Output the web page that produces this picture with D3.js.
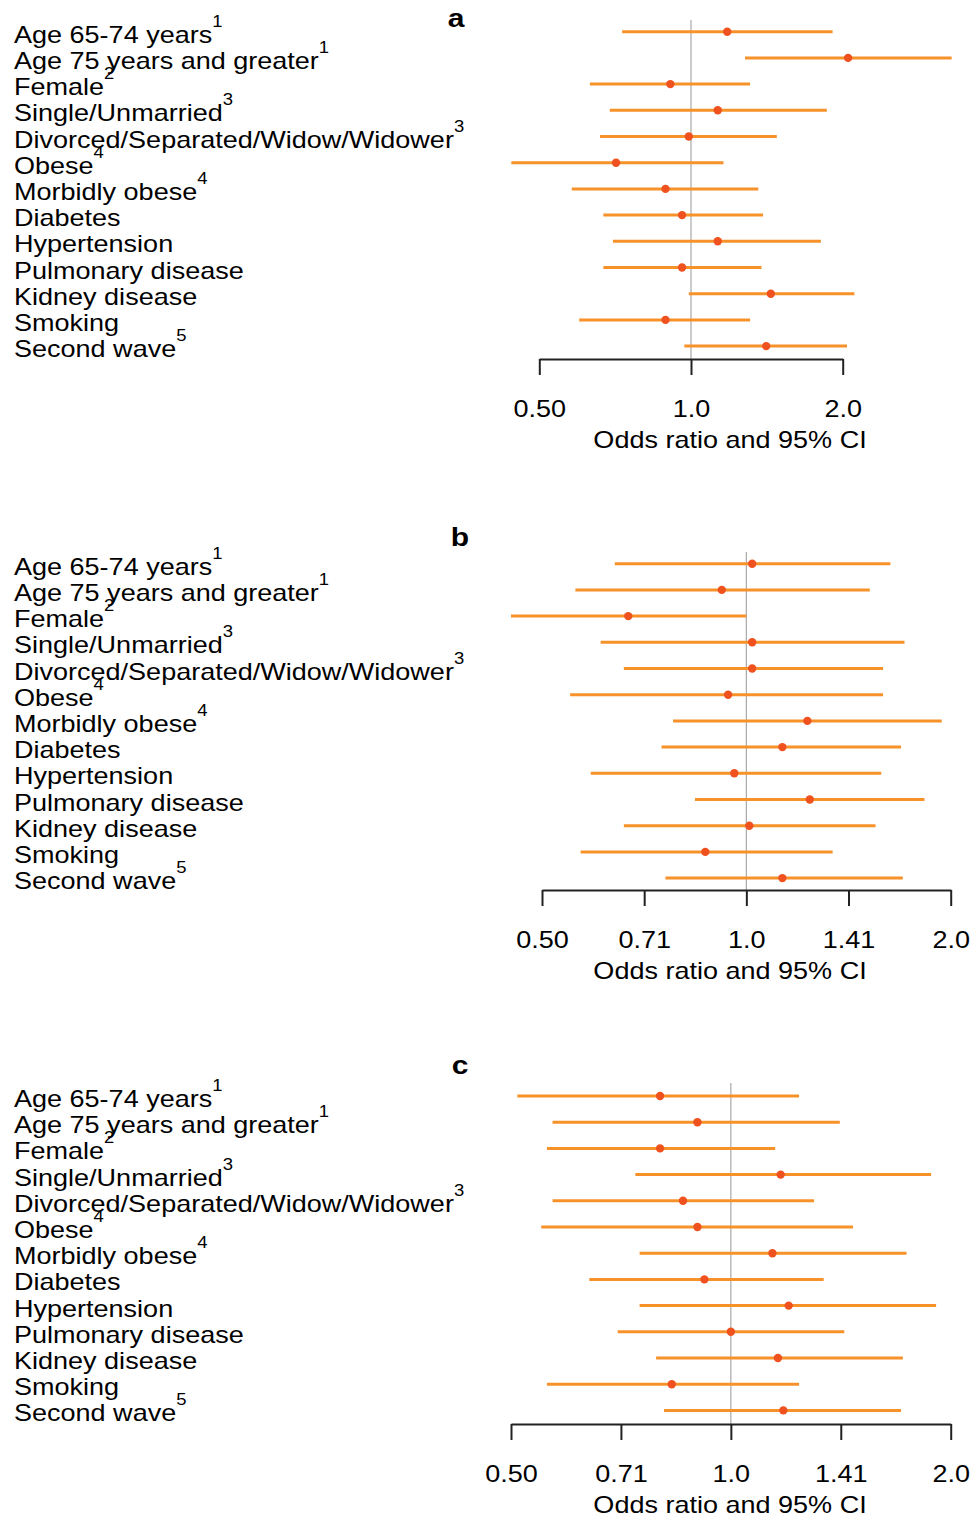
<!DOCTYPE html>
<html>
<head>
<meta charset="utf-8">
<script src="https://cdn.jsdelivr.net/npm/d3@7"></script>
<style>
    body { margin: 0; background: #fff; }
    svg { display: block; font-family: "Liberation Sans", Arial, sans-serif; }
</style>
</head>
<body>
<div id="chart"></div>
<script>
// Row labels and their footnote marks
const labels = ["Age 65-74 years", "Age 75 years and greater", "Female", "Single/Unmarried",
    "Divorced/Separated/Widow/Widower", "Obese", "Morbidly obese", "Diabetes", "Hypertension",
    "Pulmonary disease", "Kidney disease", "Smoking", "Second wave"];
const footnotes = ["1", "1", "2", "3", "3", "4", "4", "", "", "", "", "", "5"];

// Panel a
const orA = [1.18, 2.05, 0.91, 1.13, 0.99, 0.71, 0.89, 0.96, 1.13, 0.96, 1.44, 0.89, 1.41];
const loA = [0.73, 1.28, 0.63, 0.69, 0.66, 0.44, 0.58, 0.67, 0.70, 0.67, 0.99, 0.60, 0.97];
const hiA = [1.91, 3.29, 1.31, 1.86, 1.48, 1.16, 1.36, 1.39, 1.81, 1.38, 2.11, 1.31, 2.04];

// Panel b
const orB = [1.02, 0.92, 0.67, 1.02, 1.02, 0.94, 1.23, 1.13, 0.96, 1.24, 1.01, 0.87, 1.13];
const loB = [0.64, 0.56, 0.45, 0.61, 0.66, 0.55, 0.78, 0.75, 0.59, 0.84, 0.66, 0.57, 0.76];
const hiB = [1.63, 1.52, 1.00, 1.71, 1.59, 1.59, 1.94, 1.69, 1.58, 1.83, 1.55, 1.34, 1.70];

// Panel c
const orC = [0.80, 0.90, 0.80, 1.17, 0.86, 0.90, 1.14, 0.92, 1.20, 1.00, 1.16, 0.83, 1.18];
const loC = [0.51, 0.57, 0.56, 0.74, 0.57, 0.55, 0.75, 0.64, 0.75, 0.70, 0.79, 0.56, 0.81];
const hiC = [1.24, 1.41, 1.15, 1.88, 1.30, 1.47, 1.74, 1.34, 1.91, 1.43, 1.72, 1.24, 1.71];

// Axis ticks
const ticksA = [0.5, 1, 2];
const tickLabelsA = ["0.50", "1.0", "2.0"];
const ticksBC = [0.5, Math.SQRT1_2, 1, Math.SQRT2, 2];
const tickLabelsBC = ["0.50", "0.71", "1.0", "1.41", "2.0"];

const axisTitle = "Odds ratio and 95% CI";

const width = 972, height = 1519;
const lineColor = "#f7922a";
const dotColor = "#f0521f";
// the original figure's text is a little wider than it is tall
const fontSize = 23.4;
const stretch = 1.155;

const svg = d3.select("#chart").append("svg")
    .attr("width", width)
    .attr("height", height);

const panels = [
    { letter: "a", or: orA, lo: loA, hi: hiA, ticks: ticksA, tickLabels: tickLabelsA,
      x0: 539.3, x1: 842.7, rowTop: 31.7, axisY: 359, refTop: 20, letterY: 27, letterX: 456 },
    { letter: "b", or: orB, lo: loB, hi: hiB, ticks: ticksBC, tickLabels: tickLabelsBC,
      x0: 542, x1: 950.7, rowTop: 563.7, axisY: 890, refTop: 552, letterY: 546, letterX: 460 },
    { letter: "c", or: orC, lo: loC, hi: hiC, ticks: ticksBC, tickLabels: tickLabelsBC,
      x0: 511, x1: 950.7, rowTop: 1096, axisY: 1424, refTop: 1083, letterY: 1074, letterX: 460 }
];

const rowStep = 26.2;

panels.forEach(p => drawPanel(p));

function drawPanel(p) {
    const g = svg.append("g");

    const x = d3.scaleLog().base(2)
        .domain([0.5, 2])
        .range([p.x0, p.x1]);

    const y = d3.scalePoint()
        .domain(d3.range(labels.length))
        .range([p.rowTop, p.rowTop + rowStep * (labels.length - 1)]);

    // panel letter
    g.append("text")
        .attr("transform", `translate(${p.letterX},${p.letterY}) scale(${stretch},1)`)
        .attr("text-anchor", "middle")
        .attr("font-size", 26)
        .attr("font-weight", "bold")
        .text(p.letter);

    // row labels with superscript footnotes
    const lab = g.selectAll("text.row")
        .data(labels)
        .enter()
        .append("text")
        .attr("class", "row")
        .attr("transform", (d, i) => `translate(14,${y(i) + 11}) scale(${stretch},1)`)
        .attr("font-size", fontSize)
        .attr("fill", "#000");
    lab.append("tspan").text(d => d);
    lab.append("tspan")
        .attr("font-size", 16)
        .attr("dy", -16)
        .text((d, i) => footnotes[i]);

    // reference line at OR = 1
    g.append("line")
        .attr("x1", x(1)).attr("x2", x(1))
        .attr("y1", p.refTop).attr("y2", p.axisY)
        .attr("stroke", "#a8a8a8")
        .attr("stroke-width", 1.2);

    // confidence intervals
    g.selectAll("line.ci")
        .data(d3.range(labels.length))
        .enter()
        .append("line")
        .attr("class", "ci")
        .attr("x1", i => x(p.lo[i]))
        .attr("x2", i => x(p.hi[i]))
        .attr("y1", i => y(i))
        .attr("y2", i => y(i))
        .attr("stroke", lineColor)
        .attr("stroke-width", 3);

    // point estimates
    g.selectAll("circle")
        .data(d3.range(labels.length))
        .enter()
        .append("circle")
        .attr("cx", i => x(p.or[i]))
        .attr("cy", i => y(i))
        .attr("r", 4.2)
        .attr("fill", dotColor);

    // x axis
    const axis = d3.axisBottom(x)
        .tickValues(p.ticks)
        .tickFormat((d, i) => p.tickLabels[i])
        .tickSize(16)
        .tickSizeOuter(0)
        .tickPadding(0);

    const ax = g.append("g")
        .attr("transform", `translate(0,${p.axisY})`)
        .call(axis);
    ax.select(".domain").attr("stroke", "#222").attr("stroke-width", 2);
    ax.selectAll(".tick line").attr("stroke", "#222").attr("stroke-width", 2);
    ax.selectAll(".tick text")
        .attr("y", null)
        .attr("dy", null)
        .attr("transform", `translate(0,58) scale(${stretch},1)`)
        .attr("font-size", fontSize)
        .attr("font-family", "Liberation Sans, Arial, sans-serif")
        .attr("fill", "#000");

    g.append("text")
        .attr("transform", `translate(730,${p.axisY + 89}) scale(${stretch},1)`)
        .attr("text-anchor", "middle")
        .attr("font-size", fontSize)
        .attr("fill", "#000")
        .text(axisTitle);
}
</script>
</body>
</html>
